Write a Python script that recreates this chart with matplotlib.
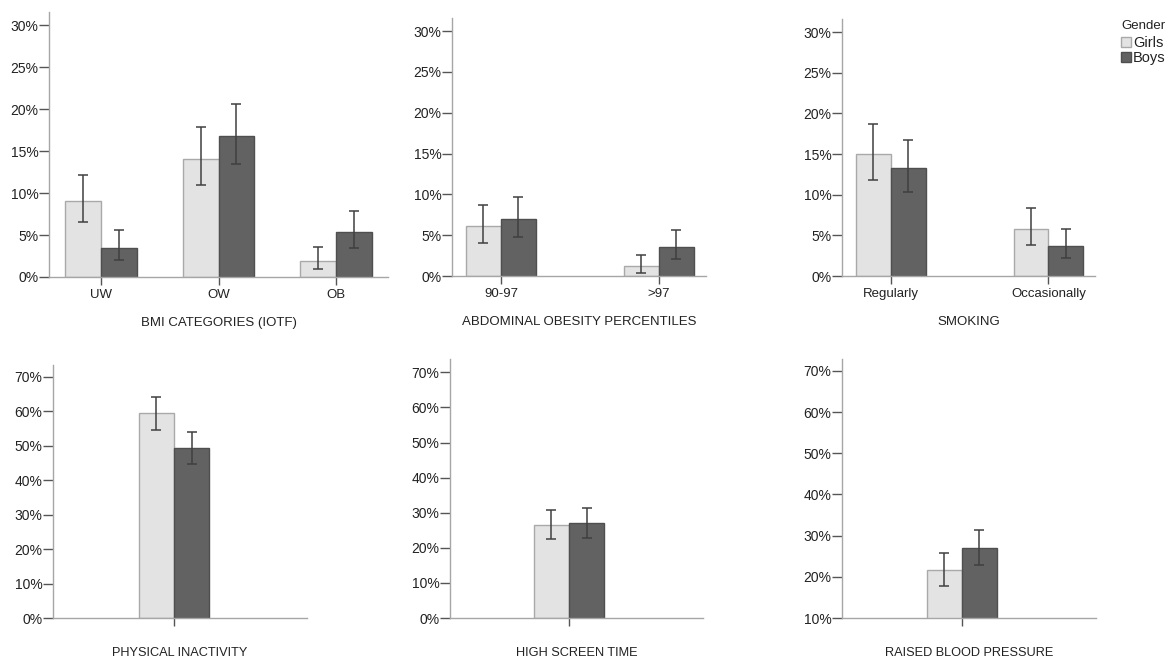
import matplotlib
matplotlib.use("Agg")
import matplotlib.pyplot as plt
from matplotlib.patches import Patch
from matplotlib.ticker import FuncFormatter

plt.rcParams['font.family'] = ['Liberation Sans', 'DejaVu Sans']

# ---------------- data (percent) ----------------
bmi_cats = ["UW", "OW", "OB"]
bmi_girls = [9.0, 14.1, 1.95]
bmi_girls_lo = [6.55, 11.0, 0.95]
bmi_girls_hi = [12.1, 17.8, 3.6]
bmi_boys = [3.5, 16.8, 5.4]
bmi_boys_lo = [2.07, 13.5, 3.5]
bmi_boys_hi = [5.56, 20.6, 7.8]

abd_cats = ["90-97", ">97"]
abd_girls = [6.08, 1.18]
abd_girls_lo = [4.08, 0.4]
abd_girls_hi = [8.7, 2.6]
abd_boys = [6.98, 3.5]
abd_boys_lo = [4.82, 2.04]
abd_boys_hi = [9.67, 5.6]

smk_cats = ["Regularly", "Occasionally"]
smk_girls = [15.0, 5.8]
smk_girls_lo = [11.8, 3.8]
smk_girls_hi = [18.7, 8.35]
smk_boys = [13.3, 3.7]
smk_boys_lo = [10.3, 2.2]
smk_boys_hi = [16.7, 5.8]

pa_girls = [59.5]
pa_girls_lo = [54.6]
pa_girls_hi = [64.0]
pa_boys = [49.2]
pa_boys_lo = [44.6]
pa_boys_hi = [54.05]

st_girls = [26.45]
st_girls_lo = [22.4]
st_girls_hi = [30.9]
st_boys = [27.0]
st_boys_lo = [22.8]
st_boys_hi = [31.4]

bp_girls = [21.64]
bp_girls_lo = [17.84]
bp_girls_hi = [25.7]
bp_boys = [26.98]
bp_boys_lo = [22.85]
bp_boys_hi = [31.3]

titles = ["BMI CATEGORIES (IOTF)", "ABDOMINAL OBESITY PERCENTILES", "SMOKING",
          "PHYSICAL INACTIVITY", "HIGH SCREEN TIME", "RAISED BLOOD PRESSURE"]
legend_labels = ["Girls", "Boys"]

# ---------------- style ----------------
W, H = 1167, 661
DPI = 100
GIRL_FC, GIRL_EC = "#e3e3e3", "#a9a9a9"
BOY_FC, BOY_EC = "#626262", "#4f4f4f"
ERR_C = "#404040"
SPINE_C = "#a6a6a6"
TXT_C = "#222222"
FS_TICK = 10
FS_TOP = 9.5
FS_BOT = 9.2

fig = plt.figure(figsize=(W / DPI, H / DPI), dpi=DPI)


def px_axes(left, right, top, bottom):
    return fig.add_axes([left / W, 1 - bottom / H, (right - left) / W, (bottom - top) / H])


pct = FuncFormatter(lambda v, p: f"{v:.0f}%")


def panel(ax, cats, g, glo, ghi, b, blo, bhi, width, xlim, ylim, yticks, title,
          show_labels, title_off_px, title_fs):
    xs = list(range(len(g)))
    xg = [x - width / 2 for x in xs]
    xb = [x + width / 2 for x in xs]
    ax.bar(xg, g, width=width, color=GIRL_FC, edgecolor=GIRL_EC, linewidth=1.0, zorder=2)
    ax.bar(xb, b, width=width, color=BOY_FC, edgecolor=BOY_EC, linewidth=1.0, zorder=2)
    ax.errorbar(xg, g, yerr=[[v - l for v, l in zip(g, glo)], [h - v for v, h in zip(g, ghi)]],
                fmt="none", ecolor=ERR_C, elinewidth=1.1, capsize=3.6, capthick=1.1, zorder=3)
    ax.errorbar(xb, b, yerr=[[v - l for v, l in zip(b, blo)], [h - v for v, h in zip(b, bhi)]],
                fmt="none", ecolor=ERR_C, elinewidth=1.1, capsize=3.6, capthick=1.1, zorder=3)
    ax.set_xlim(*xlim)
    ax.set_ylim(*ylim)
    ax.set_yticks(yticks)
    ax.yaxis.set_major_formatter(pct)
    ax.set_xticks(xs)
    ax.set_xticklabels(cats if show_labels else [""] * len(xs))
    for s in ("top", "right"):
        ax.spines[s].set_visible(False)
    for s in ("left", "bottom"):
        ax.spines[s].set_color(SPINE_C)
        ax.spines[s].set_linewidth(1.0)
    ax.tick_params(axis="y", length=7.2, width=1.0, color="#555555", pad=0.5,
                   labelsize=FS_TICK, labelcolor=TXT_C)
    ax.tick_params(axis="x", length=6, width=1.0, color="#555555", pad=2.5,
                   labelsize=FS_TOP, labelcolor=TXT_C)
    ax.patch.set_alpha(0)
    ax.annotate(title, xy=(0.5, 0), xycoords="axes fraction",
                xytext=(0, -title_off_px * 72 / DPI), textcoords="offset points",
                ha="center", va="center", fontsize=title_fs, color=TXT_C)


# top row
ax1 = px_axes(49, 388, 12, 277)
panel(ax1, bmi_cats, bmi_girls, bmi_girls_lo, bmi_girls_hi, bmi_boys, bmi_boys_lo, bmi_boys_hi,
      0.306, (-0.443, 2.443), (0, 31.55), [0, 5, 10, 15, 20, 25, 30], titles[0], True, 46, FS_TOP)

ax2 = px_axes(452, 706, 18, 276)
panel(ax2, abd_cats, abd_girls, abd_girls_lo, abd_girls_hi, abd_boys, abd_boys_lo, abd_boys_hi,
      0.222, (-0.31, 1.30), (0, 31.6), [0, 5, 10, 15, 20, 25, 30], titles[1], True, 46, FS_TOP)

ax3 = px_axes(842, 1095, 19, 276)
panel(ax3, smk_cats, smk_girls, smk_girls_lo, smk_girls_hi, smk_boys, smk_boys_lo, smk_boys_hi,
      0.222, (-0.31, 1.295), (0, 31.6), [0, 5, 10, 15, 20, 25, 30], titles[2], True, 46, FS_TOP)

# bottom row
ax4 = px_axes(53, 307, 365, 618)
panel(ax4, [""], pa_girls, pa_girls_lo, pa_girls_hi, pa_boys, pa_boys_lo, pa_boys_hi,
      0.222, (-0.766, 0.842), (0, 73.4), [0, 10, 20, 30, 40, 50, 60, 70], titles[3], False, 35, FS_BOT)

ax5 = px_axes(450, 703, 359, 618)
panel(ax5, [""], st_girls, st_girls_lo, st_girls_hi, st_boys, st_boys_lo, st_boys_hi,
      0.222, (-0.753, 0.848), (0, 73.8), [0, 10, 20, 30, 40, 50, 60, 70], titles[4], False, 35, FS_BOT)

ax6 = px_axes(842, 1096, 359, 618)
panel(ax6, [""], bp_girls, bp_girls_lo, bp_girls_hi, bp_boys, bp_boys_lo, bp_boys_hi,
      0.222, (-0.761, 0.85), (10, 72.9), [10, 20, 30, 40, 50, 60, 70], titles[5], False, 35, FS_BOT)

# legend
handles = [Patch(facecolor=GIRL_FC, edgecolor=GIRL_EC, linewidth=1.0),
           Patch(facecolor=BOY_FC, edgecolor=BOY_EC, linewidth=1.0)]
leg = fig.legend(handles, legend_labels, title="Gender", loc="upper left",
                 bbox_to_anchor=(1121 / W, 1 - 20 / H), frameon=False, fontsize=10.5,
                 title_fontsize=FS_TOP, handlelength=0.7, handleheight=0.7, handletextpad=0.12,
                 labelspacing=0.05, borderpad=0, borderaxespad=0, alignment="left")
leg._legend_box.sep = 3
for t in leg.get_texts():
    t.set_color(TXT_C)
leg.get_title().set_color(TXT_C)

fig.savefig("out.png", dpi=DPI)
